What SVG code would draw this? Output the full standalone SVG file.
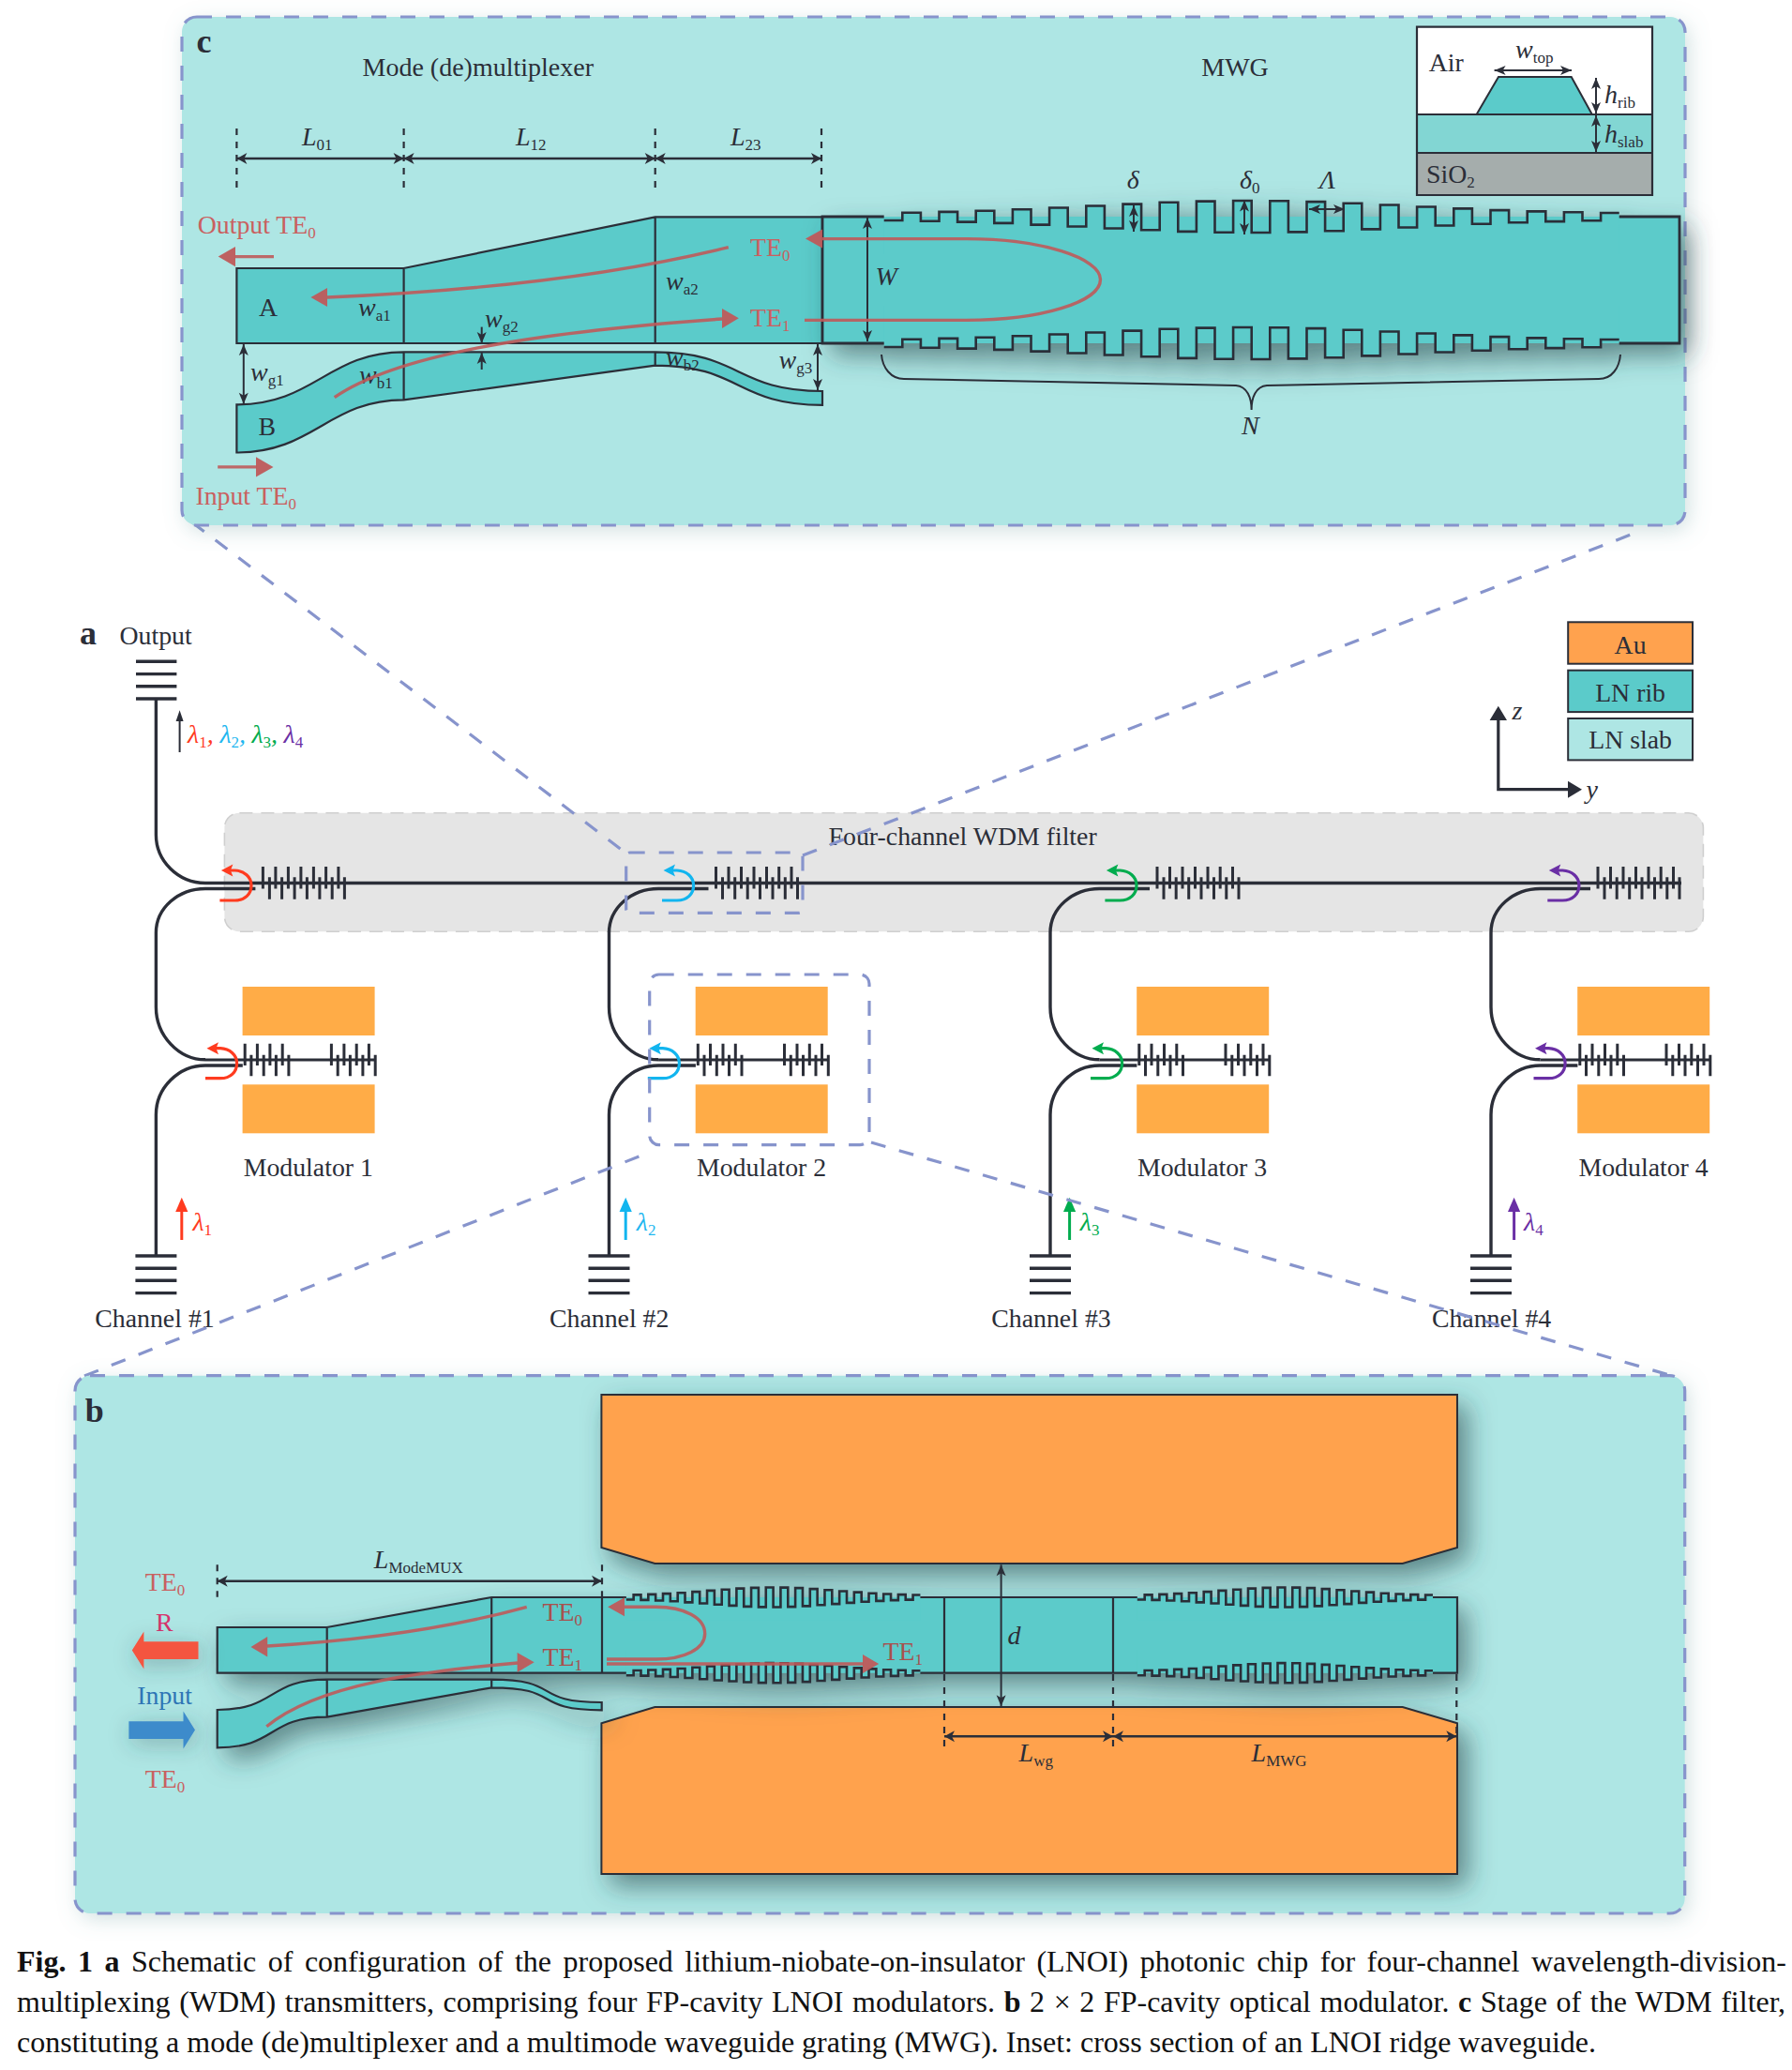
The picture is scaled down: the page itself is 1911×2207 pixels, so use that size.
<svg xmlns="http://www.w3.org/2000/svg" width="1911" height="2207" viewBox="0 0 1911 2207">
<style>
text{font-family:"Liberation Serif","Times New Roman",serif;fill:#2b2e38;font-size:27.8px}
.it{font-style:italic;font-size:28px}
.bd{font-weight:bold;font-size:36px}
.sub{font-size:17px;font-style:normal}
.red{fill:#c9605f}
.dred{fill:#a8504e}
.rib{fill:#5bcbca}
.wl{fill:none;stroke:#2b2e38;stroke-width:2.2}
.ge{fill:none;stroke:#2b2e38;stroke-width:2.6;vector-effect:non-scaling-stroke}
.pan{fill:#aee6e4}
.dash{fill:none;stroke:#8794cc;stroke-width:3.2;stroke-dasharray:16 15}
.dim{fill:none;stroke:#2b2e38;stroke-width:2;marker-start:url(#ah);marker-end:url(#ah)}
.dim3{fill:none;stroke:#2b2e38;stroke-width:2.6;marker-start:url(#ah2);marker-end:url(#ah2)}
.ra{fill:none;stroke:#bf5a5a;stroke-width:3.4;stroke-opacity:.9}
.rh{fill:#bf5a5a;fill-opacity:.95}
.wg{fill:none;stroke:#2b2e38;stroke-width:3.4}
.tk{fill:none;stroke:#2b2e38;stroke-width:3}
.au{fill:#ffac47}
.el{fill:#ffa24e;stroke:#2b2e38;stroke-width:2}
.cap{font-size:32px;fill:#111}
</style>
<defs>
<filter id="sh" x="-20%" y="-40%" width="140%" height="190%"><feDropShadow dx="10" dy="12" stdDeviation="14" flood-color="#27454a" flood-opacity=".6"/></filter>
<filter id="ash" x="-80%" y="-120%" width="260%" height="340%"><feDropShadow dx="3" dy="5" stdDeviation="12" flood-color="#27454a" flood-opacity=".35"/></filter>
<filter id="psh" x="-5%" y="-5%" width="110%" height="110%"><feDropShadow dx="4" dy="6" stdDeviation="11" flood-color="#6c9c9c" flood-opacity=".3"/></filter>
<marker id="ah" markerUnits="userSpaceOnUse" viewBox="-13 -6 14 12" markerWidth="14" markerHeight="12" refX="0" refY="0" orient="auto-start-reverse"><path d="M0,0 L-12,-5 L-9,0 L-12,5Z" fill="#2b2e38"/></marker>
<marker id="ah2" markerUnits="userSpaceOnUse" viewBox="-13 -7 14 14" markerWidth="14" markerHeight="14" refX="0" refY="0" orient="auto-start-reverse"><path d="M0,0 L-11,-6 L-8,0 L-11,6Z" fill="#2b2e38"/></marker>
<path id="ge" class="ge" d="M0,4 H19.6 V-4.3 H39.2 V4.7 H58.8 V-5.1 H78.4 V5.6 H98 V-6.2 H117.6 V6.9 H137.2 V-7.7 H156.8 V8.6 H176.4 V-9.5 H196 V10.5 H215.6 V-11.5 H235.2 V12.5 H254.8 V-13.4 H274.4 V14.3 H294 V-15.2 H313.6 V15.9 H333.2 V-16.4 H352.8 V16.8 H372.4 V-17 H392 V17 H411.6 V-16.8 H431.2 V16.4 H450.8 V-15.9 H470.4 V15.2 H490 V-14.3 H509.6 V13.4 H529.2 V-12.5 H548.8 V11.5 H568.4 V-10.5 H588 V9.5 H607.6 V-8.6 H627.2 V7.7 H646.8 V-6.9 H666.4 V6.2 H686 V-5.6 H705.6 V5.1 H725.2 V-4.7 H744.8 V4.3 H764.4 V-4 H784"/>
<g id="gT"><path class="rib" d="M0,4 H19.6 V-4.3 H39.2 V4.7 H58.8 V-5.1 H78.4 V5.6 H98 V-6.2 H117.6 V6.9 H137.2 V-7.7 H156.8 V8.6 H176.4 V-9.5 H196 V10.5 H215.6 V-11.5 H235.2 V12.5 H254.8 V-13.4 H274.4 V14.3 H294 V-15.2 H313.6 V15.9 H333.2 V-16.4 H352.8 V16.8 H372.4 V-17 H392 V17 H411.6 V-16.8 H431.2 V16.4 H450.8 V-15.9 H470.4 V15.2 H490 V-14.3 H509.6 V13.4 H529.2 V-12.5 H548.8 V11.5 H568.4 V-10.5 H588 V9.5 H607.6 V-8.6 H627.2 V7.7 H646.8 V-6.9 H666.4 V6.2 H686 V-5.6 H705.6 V5.1 H725.2 V-4.7 H744.8 V4.3 H764.4 V-4 H784 V40 H0Z"/><use href="#ge"/></g>
<g id="gB"><path class="rib" d="M0,4 H19.6 V-4.3 H39.2 V4.7 H58.8 V-5.1 H78.4 V5.6 H98 V-6.2 H117.6 V6.9 H137.2 V-7.7 H156.8 V8.6 H176.4 V-9.5 H196 V10.5 H215.6 V-11.5 H235.2 V12.5 H254.8 V-13.4 H274.4 V14.3 H294 V-15.2 H313.6 V15.9 H333.2 V-16.4 H352.8 V16.8 H372.4 V-17 H392 V17 H411.6 V-16.8 H431.2 V16.4 H450.8 V-15.9 H470.4 V15.2 H490 V-14.3 H509.6 V13.4 H529.2 V-12.5 H548.8 V11.5 H568.4 V-10.5 H588 V9.5 H607.6 V-8.6 H627.2 V7.7 H646.8 V-6.9 H666.4 V6.2 H686 V-5.6 H705.6 V5.1 H725.2 V-4.7 H744.8 V4.3 H764.4 V-4 H784 V-40 H0Z"/><use href="#ge"/></g>
<g id="ftk"><path class="tk" d="M114,924V947.5M127.5,924V947.5M141,924V947.5M154.5,924V947.5M168,924V947.5M181.2,924V947.5M194.5,924V947.5"/><path class="tk" d="M121,935.3V958.7M134.2,935.3V958.7M147.7,935.3V958.7M161,935.3V958.7M174.5,935.3V958.7M187.8,935.3V958.7M201,935.3V958.7"/></g>
<g id="mtk"><path class="tk" d="M94.8,1112.7V1136M108,1112.7V1136M121.5,1112.7V1136M134.8,1112.7V1136M187,1112.7V1136M200.5,1112.7V1136M213.8,1112.7V1136M227,1112.7V1136"/><path class="tk" d="M101.5,1124.7V1147.3M114.8,1124.7V1147.3M128,1124.7V1147.3M141.5,1124.7V1147.3M193.8,1124.7V1147.3M207,1124.7V1147.3M220.5,1124.7V1147.3M233.8,1124.7V1147.3"/></g>
<g id="chan"><path class="wg" d="M106,947.5H52.6C24,947.5 0,968 0,994.6V1073.7C0,1104 24,1129.8 52.6,1129.8"/><path class="wg" d="M92.4,1136H52.6C24,1136 0,1160 0,1188.5V1338"/><path fill="none" stroke="#2b2e38" stroke-width="2.8" d="M52.6,1130H233"/><path class="wg" d="M-22,1339H22M-22,1352.3H22M-22,1365.3H22M-22,1378.6H22"/><use href="#ftk"/><use href="#mtk"/><rect class="au" x="92.2" y="1052" width="141" height="52"/><rect class="au" x="92.2" y="1156.3" width="141" height="52"/></g>
<g id="u"><path fill="none" stroke="currentColor" stroke-width="3.2" d="M0,32H16C27,32 33.6,25 33.6,16C33.6,7 26,0.5 16,0H7"/><path fill="currentColor" d="M1.5,0 L14,-6.5 L11.5,0 L14,6.5Z"/></g>
<g id="la"><path fill="none" stroke="currentColor" stroke-width="3" d="M0,1322V1285"/><path fill="currentColor" d="M0,1276.7L6.6,1292H-6.6Z"/></g>
</defs>
<rect width="1911" height="2207" fill="#fff"/>

<g id="wdm-filter"><rect x="239.4" y="866.7" width="1577" height="126.6" rx="16" fill="#e5e5e5" stroke="#cfcfcf" stroke-width="1.6" stroke-dasharray="14 9"/><text x="883.6" y="900.5">Four-channel WDM filter</text></g>

<g id="output"><text class="bd" x="85" y="687">a</text><text x="127.5" y="687">Output</text>
<path class="wg" d="M145,705.3H188.4M145,718.6H188.4M145,731.8H188.4M145,745H188.4"/>
<path fill="none" stroke="#2b2e38" stroke-width="2" d="M191.6,802V767"/><path fill="#2b2e38" d="M191.6,757.3L195.6,769H187.6Z"/>
<text class="it" y="791.5"><tspan x="200" style="fill:#ff3b1f">λ<tspan class="sub" dy="5" style="fill:#ff3b1f">1</tspan><tspan dy="-5" style="fill:#ff3b1f">,</tspan></tspan><tspan x="234.4" style="fill:#1fb7f0">λ<tspan class="sub" dy="5" style="fill:#1fb7f0">2</tspan><tspan dy="-5" style="fill:#1fb7f0">,</tspan></tspan><tspan x="268.4" style="fill:#00ac4e">λ<tspan class="sub" dy="5" style="fill:#00ac4e">3</tspan><tspan dy="-5" style="fill:#00ac4e">,</tspan></tspan><tspan x="302.5" style="fill:#6a2fa5">λ<tspan class="sub" dy="5" style="fill:#6a2fa5">4</tspan></tspan></text>
</g>

<g id="bus"><path class="wg" d="M166.4,745V890C166.4,918 190,941.5 219,941.5H1793"/></g>

<g id="channel-1"><use href="#chan" x="166.4"/><use href="#u" x="234.4" y="928" style="color:#ff3b1f"/><use href="#u" x="219" y="1117.7" style="color:#ff3b1f"/><use href="#la" x="193.8" style="color:#ff3b1f"/><text class="it" x="205.4" y="1312" style="fill:#ff3b1f">λ<tspan class="sub" dy="5" style="fill:#ff3b1f">1</tspan></text><text x="259.7" y="1254">Modulator 1</text><text x="165" y="1415" text-anchor="middle">Channel #1</text></g>
<g id="channel-2"><use href="#chan" x="649.5"/><use href="#u" x="706" y="928" style="color:#12b5ef"/><use href="#u" x="690.8" y="1117.7" style="color:#12b5ef"/><use href="#la" x="667.2" style="color:#12b5ef"/><text class="it" x="678.8" y="1312" style="fill:#1fb7f0">λ<tspan class="sub" dy="5" style="fill:#1fb7f0">2</tspan></text><text x="743" y="1254">Modulator 2</text><text x="649.7" y="1415" text-anchor="middle">Channel #2</text></g>
<g id="channel-3"><use href="#chan" x="1120"/><use href="#u" x="1178.4" y="928" style="color:#00ac4e"/><use href="#u" x="1163" y="1117.7" style="color:#00ac4e"/><use href="#la" x="1140.6" style="color:#00ac4e"/><text class="it" x="1151.8" y="1312" style="fill:#00ac4e">λ<tspan class="sub" dy="5" style="fill:#00ac4e">3</tspan></text><text x="1213" y="1254">Modulator 3</text><text x="1121" y="1415" text-anchor="middle">Channel #3</text></g>
<g id="channel-4"><use href="#chan" x="1590"/><use href="#u" x="1650.3" y="928" style="color:#6a2fa5"/><use href="#u" x="1635.5" y="1117.7" style="color:#6a2fa5"/><use href="#la" x="1614.6" style="color:#6a2fa5"/><text class="it" x="1625" y="1312" style="fill:#6a2fa5">λ<tspan class="sub" dy="5" style="fill:#6a2fa5">4</tspan></text><text x="1683.5" y="1254">Modulator 4</text><text x="1590.6" y="1415" text-anchor="middle">Channel #4</text></g>

<g id="legend">
<rect x="1672.2" y="663.3" width="132.8" height="44.4" fill="#ffa24e" stroke="#2b2e38" stroke-width="2"/><text x="1738.6" y="696.5" text-anchor="middle">Au</text>
<rect x="1672.2" y="714.7" width="132.8" height="44.4" fill="#5bcbca" stroke="#2b2e38" stroke-width="2"/><text x="1738.6" y="747.5" text-anchor="middle">LN rib</text>
<rect x="1672.2" y="766" width="132.8" height="44.4" fill="#aee6e4" stroke="#2b2e38" stroke-width="2"/><text x="1738.6" y="798" text-anchor="middle">LN slab</text>
</g>
<g id="axes"><path fill="none" stroke="#2b2e38" stroke-width="3.2" d="M1597.8,765V841.7H1675"/><path fill="#2b2e38" d="M1597.8,752.7L1607,768H1588.6ZM1687,841.7L1672,832.7V850.7Z"/><text class="it" x="1612.6" y="766.5">z</text><text class="it" x="1691.6" y="850.5">y</text></g>

<g id="connectors">
<path class="dash" d="M205,557L668,910"/><path class="dash" d="M856,912L1752,565"/>
<rect class="dash" x="667.7" y="909" width="188.3" height="64.3" rx="4"/>
<rect class="dash" x="692.7" y="1039" width="234.3" height="181.6" rx="10"/>
<path class="dash" d="M90,1467L694,1228"/><path class="dash" d="M929,1218L1780,1466"/>
</g>

<g id="panel-c">
<rect class="pan" x="194" y="18" width="1603" height="542" rx="16" filter="url(#psh)"/>
<rect class="dash" x="194" y="18" width="1603" height="542" rx="16"/>
<text class="bd" x="209.5" y="56">c</text>
<text x="386.5" y="81.4" style="font-size:28px">Mode (de)multiplexer</text><text x="1281.3" y="81.4" style="font-size:28px">MWG</text>
<path fill="none" stroke="#2b2e38" stroke-width="2.2" stroke-dasharray="7 7" d="M252.4,137V201M430.6,137V201M698.7,137V201M876,137V201"/>
<path class="dim3" d="M252.4,169H430.6"/><path class="dim3" d="M430.6,169H698.7"/><path class="dim3" d="M698.7,169H876"/>
<text class="it" x="322" y="155">L<tspan class="sub" dy="5">01</tspan></text><text class="it" x="550" y="155">L<tspan class="sub" dy="5">12</tspan></text><text class="it" x="779" y="155">L<tspan class="sub" dy="5">23</tspan></text>

<g id="mode-mux-c">
<path class="rib" d="M252.4,286H430.6L698.7,231.4H877V366H252.4Z"/><path class="wl" d="M252.4,286H430.6L698.7,231.4H877V366H252.4ZM430.6,286V366M698.7,231.4V366"/>
<path class="rib" d="M252.4,431.4C335,431.4 350,375.4 430.6,375.4H698.7C790,375.4 785,417 877,417V431.8C785,431.8 790,389.6 698.7,389.6L430.6,426.4C350,426.4 335,482.5 252.4,482.5Z"/>
<path class="wl" d="M252.4,431.4C335,431.4 350,375.4 430.6,375.4H698.7C790,375.4 785,417 877,417V431.8C785,431.8 790,389.6 698.7,389.6L430.6,426.4C350,426.4 335,482.5 252.4,482.5ZM430.6,375.4V426.4M698.7,375.4V389.6"/>
</g>
<g id="mwg-c">
<g filter="url(#sh)"><rect class="rib" x="877" y="231" width="914" height="135"/><use href="#gT" transform="translate(942.7,231)"/><use href="#gB" transform="translate(942.7,366)"/></g>
<path fill="none" stroke="#2b2e38" stroke-width="2.8" d="M942.7,231H877V366H942.7M1726.7,231H1791V366H1726.7"/>
</g>
<g id="labels-c">
<text class="it" x="382" y="337">w<tspan class="sub" dy="5">a1</tspan></text><text class="it" x="383" y="409">w<tspan class="sub" dy="5">b1</tspan></text><text class="it" x="710" y="309">w<tspan class="sub" dy="5">a2</tspan></text><text class="it" x="710" y="390">w<tspan class="sub" dy="5">b2</tspan></text><text class="it" x="267" y="406">w<tspan class="sub" dy="5">g1</tspan></text><text class="it" x="517" y="349">w<tspan class="sub" dy="5">g2</tspan></text><text class="it" x="830.5" y="393">w<tspan class="sub" dy="5">g3</tspan></text>
<text x="276" y="337">A</text><text x="275.4" y="463.6">B</text>
<path class="dim" d="M259.8,367V430.7"/><path class="dim" d="M872,367V416"/>
<path fill="none" stroke="#2b2e38" stroke-width="2" marker-end="url(#ah)" d="M513.7,348.6V366"/><path fill="none" stroke="#2b2e38" stroke-width="2" marker-end="url(#ah)" d="M513.7,394V376"/>
<path class="dim" d="M925,232V364"/><text class="it" x="933.5" y="303.6">W</text>
<path class="dim" d="M1209,219V247"/><path class="dim" d="M1327,213.6V250"/><path class="dim" d="M1396,223H1434"/>
<text class="it" x="1201.7" y="201">δ</text><text class="it" x="1322" y="201">δ<tspan class="sub" dy="5">0</tspan></text><text class="it" x="1407" y="201">Λ</text>
<path fill="none" stroke="#2b2e38" stroke-width="2" d="M940,378C941,392 950,404 964,404L1318,411C1330,412 1334.6,424 1334.6,437C1334.6,424 1339,412 1351,411L1705,404C1719,404 1727,392 1728,378"/>
<text class="it" x="1324" y="463">N</text>
</g>
<g id="red-c">
<path class="ra" d="M776.8,263.6C690,285 560,308 349,317"/><path class="rh" d="M331.4,317L349,307V327Z"/>
<path class="ra" d="M356.7,423.6C420,380 560,355 770,340"/><path class="rh" d="M787.8,339.3L770,329V350Z"/>
<path class="ra" d="M877,254.6H1031C1110,254.6 1173.5,275 1173.5,298C1173.5,322 1110,341.4 1031,341.4H858"/><path class="rh" d="M859,254.6L877,244.6V264.6Z"/>
<text class="red" x="800" y="272.5">TE<tspan class="sub red" dy="5">0</tspan></text><text class="red" x="800" y="347.5">TE<tspan class="sub red" dy="5">1</tspan></text>
<text class="red" x="210.7" y="248.6">Output TE<tspan class="sub red" dy="5">0</tspan></text><text class="red" x="208.4" y="538">Input TE<tspan class="sub red" dy="5">0</tspan></text>
<path class="ra" d="M292,273.6H250"/><path class="rh" d="M232.7,273.6L251,263V284.3Z"/>
<path class="ra" d="M232.2,497.9H274"/><path class="rh" d="M291.5,497.9L273,487.2V508.6Z"/>
</g>
<g id="inset">
<rect x="1511" y="28.6" width="251" height="93.4" fill="#fff"/><rect x="1511" y="122" width="251" height="41" fill="#82d6d3"/><rect x="1511" y="163" width="251" height="45" fill="#a5adac"/>
<path class="rib" d="M1598,82H1675.7L1697.8,122H1574.6Z" style="stroke:#2b2e38;stroke-width:2"/>
<path fill="none" stroke="#2b2e38" stroke-width="2.2" d="M1511,122H1762M1511,163H1762M1511,28.6H1762V208H1511Z"/>
<text x="1523.8" y="76">Air</text><text x="1521" y="194.6">SiO<tspan class="sub" dy="5">2</tspan></text>
<text class="it" x="1616" y="61.8">w<tspan class="sub" dy="5">top</tspan></text><path class="dim" d="M1593.6,75H1676"/>
<text class="it" x="1711" y="110">h<tspan class="sub" dy="5">rib</tspan></text><path class="dim" d="M1702,83V121"/>
<text class="it" x="1711" y="152">h<tspan class="sub" dy="5">slab</tspan></text><path class="dim" d="M1702,123V162"/>
</g>
</g>

<g id="panel-b">
<rect class="pan" x="80" y="1466.7" width="1716.7" height="573.3" rx="16" filter="url(#psh)"/>
<rect class="dash" x="80" y="1466.7" width="1716.7" height="573.3" rx="16"/>
<text class="bd" x="90.7" y="1515.7">b</text>
<g id="electrodes" filter="url(#sh)">
<path class="el" d="M641.4,1487H1554V1650L1495.7,1667H698.4L641.4,1650Z"/>
<path class="el" d="M641.4,1998H1554V1837.3L1495.7,1820H698.4L641.4,1837.3Z"/>
</g>
<g id="waveguides-b" filter="url(#sh)">
<path class="rib" d="M231.7,1735H348.7L524.2,1703H1554V1783.7H231.7Z"/>
<path class="rib" d="M231.7,1823C295,1823 285,1790.7 348.7,1790.7H524.2C600,1790.7 566,1815 641.7,1815V1823.3C566,1823.3 600,1799.3 524.2,1799.3L348.7,1830.7C285,1830.7 295,1863.3 231.7,1863.3Z"/>
<use href="#gT" transform="translate(667.8,1703) scale(.4,.62)"/><use href="#gB" transform="translate(667.8,1783.7) scale(.4,.62)"/>
<use href="#gT" transform="translate(1212.8,1703) scale(.402,.62)"/><use href="#gB" transform="translate(1212.8,1783.7) scale(.402,.62)"/>
</g>
<path class="wl" d="M667.8,1703H524.2L348.7,1735H231.7V1783.7H667.8M981.4,1703H1212.8M981.4,1783.7H1212.8M1528,1703H1554V1783.7H1528M348.7,1735V1783.7M524.2,1703V1783.7M642,1703V1783.7M1007,1703V1783.7M1187,1703V1783.7"/>
<path class="wl" d="M231.7,1823C295,1823 285,1790.7 348.7,1790.7H524.2C600,1790.7 566,1815 641.7,1815V1823.3C566,1823.3 600,1799.3 524.2,1799.3L348.7,1830.7C285,1830.7 295,1863.3 231.7,1863.3ZM348.7,1790.7V1830.7M524.2,1790.7V1799.3"/>
<path fill="none" stroke="#2b2e38" stroke-width="2.2" stroke-dasharray="7 7" d="M231.7,1668.3V1702.7M642,1668.3V1702.7M1007,1785V1866.7M1187,1785V1866.7M1553.3,1785V1852"/>
<path class="dim3" d="M231.7,1685.7H642"/><path class="dim3" d="M1007,1851.3H1187"/><path class="dim3" d="M1187,1851.3H1553.3"/><path class="dim" d="M1067.6,1668.3V1819.3"/>
<text class="it" x="398.8" y="1671.7">L<tspan class="sub" dy="5">ModeMUX</tspan></text><text class="it" x="1074.4" y="1752.7">d</text>
<text class="it" x="1086.6" y="1878">L<tspan class="sub" dy="5">wg</tspan></text><text class="it" x="1334.6" y="1878">L<tspan class="sub" dy="5">MWG</tspan></text>
<g id="red-b">
<path class="ra" d="M561.7,1713.3C490,1733 400,1748 285,1755"/><path class="rh" d="M267.5,1756L285.2,1745V1766.5Z"/>
<path class="ra" d="M284.3,1840.7C340,1795 450,1782 552,1773"/><path class="rh" d="M569.7,1772.3L551.6,1762V1783Z"/>
<path class="ra" d="M666,1713.3H699.6C730,1713.3 751.7,1725 751.7,1741.7C751.7,1758 730,1769 699.6,1769H647"/><path class="rh" d="M648.2,1713.3L666,1703.3V1723.3Z"/>
<path class="ra" d="M647,1774H921"/><path class="rh" d="M937.2,1774L920,1764V1784Z"/>
<text class="dred" x="578.5" y="1727.7">TE<tspan class="sub dred" dy="5">0</tspan></text><text class="dred" x="578.5" y="1775.7">TE<tspan class="sub dred" dy="5">1</tspan></text><text class="dred" x="941.5" y="1770">TE<tspan class="sub dred" dy="5">1</tspan></text>
</g>
<g id="io-b">
<text class="red" x="154.7" y="1696">TE<tspan class="sub red" dy="5">0</tspan></text><text x="166" y="1738.7" style="fill:#d6336c">R</text>
<path filter="url(#ash)" fill="#f4553f" d="M140.8,1759.5L153.4,1739.5V1750.3H211.5V1769H153.4V1779.5Z"/>
<text x="146.3" y="1816.7" style="fill:#2e75b6">Input</text>
<path filter="url(#ash)" fill="#3d8bcb" d="M208,1844.5L195.5,1824.5V1835.3H137.4V1854H195.5V1864.5Z"/>
<text class="red" x="154.7" y="1906">TE<tspan class="sub red" dy="5">0</tspan></text>
</g>
</g>

<g id="caption">
<text class="cap" x="18" y="2102" style="word-spacing:4.5px"><tspan font-weight="bold">Fig. 1 a</tspan> Schematic of configuration of the proposed lithium-niobate-on-insulator (LNOI) photonic chip for four-channel wavelength-division-</text>
<text class="cap" x="18" y="2145" style="word-spacing:1.6px">multiplexing (WDM) transmitters, comprising four FP-cavity LNOI modulators. <tspan font-weight="bold">b</tspan> 2 × 2 FP-cavity optical modulator. <tspan font-weight="bold">c</tspan> Stage of the WDM filter,</text>
<text class="cap" x="18" y="2188">constituting a mode (de)multiplexer and a multimode waveguide grating (MWG). Inset: cross section of an LNOI ridge waveguide.</text>
</g>
</svg>
